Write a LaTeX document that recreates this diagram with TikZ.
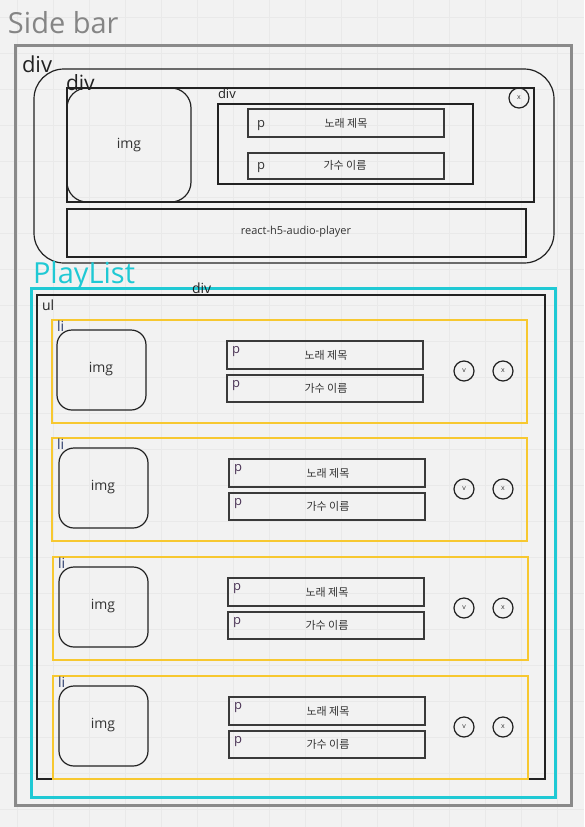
\documentclass[tikz,border=0pt]{standalone}
\usepackage{fontspec}
\setmainfont{Open Sans}
\newfontfamily\kr{Noto Sans CJK KR}
\definecolor{bgc}{HTML}{F2F2F2}
\definecolor{gridc}{HTML}{E9E9E9}
\definecolor{sidegray}{HTML}{8A8A8A}
\definecolor{sidetext}{HTML}{858585}
\definecolor{cyanc}{HTML}{1FC9D4}
\definecolor{yellowc}{HTML}{F7C830}
\definecolor{linec}{HTML}{222222}
\definecolor{pboxc}{HTML}{3A3A3A}
\definecolor{txtc}{HTML}{333333}
\definecolor{navyc}{HTML}{2A3A6A}
\definecolor{pc}{HTML}{4A3355}
\newcommand\rbox[6]{\node[#6, minimum width={(#4)-(#2)}, minimum height={(#5)-(#3)}, anchor=north west] (#1) at (#2,#3) {};}
\tikzset{
  frame/.style={draw=linec, line width=1.2pt, inner sep=0pt, outer sep=0pt, rectangle},
  sidebox/.style={draw=sidegray, line width=3pt, inner sep=0pt, outer sep=0pt, rectangle},
  cyanbox/.style={draw=cyanc, line width=3pt, inner sep=0pt, outer sep=0pt, rectangle},
  libox/.style={draw=yellowc, line width=1.5pt, inner sep=0pt, outer sep=0pt, rectangle},
  pbox/.style={draw=pboxc, line width=1.7pt, inner sep=0pt, outer sep=0pt, rectangle},
  imgbox/.style={draw=linec, line width=1.2pt, inner sep=0pt, outer sep=0pt, rectangle, rounded corners=15pt},
  circ/.style={draw=linec, line width=1.2pt, circle, minimum size=20pt, inner sep=0pt, font=\fontsize{7}{7}\selectfont, text=txtc},
  lbl/.style={inner sep=0pt, outer sep=0pt, anchor=base west},
  krtxt/.style={inner sep=0pt, font=\kr\fontsize{11}{12}\selectfont, text=txtc},
  gridline/.style={draw=gridc, line width=0.7pt}
}
\begin{document}
\begin{tikzpicture}[x=1pt,y=-1pt]
\fill[bgc] (0,0) rectangle (584,827);
\useasboundingbox (0,0) rectangle (584,827);
\foreach \g in {17,53,...,584} \draw[gridline] (\g,0) -- (\g,827);
\foreach \g in {17,53,...,827} \draw[gridline] (0,\g) -- (584,\g);

% Side bar
\node[lbl, text=sidetext, font=\fontsize{29}{30}\selectfont] (sidetitle) at (8,33) {Side bar};
\rbox{sidebar}{15}{45}{571}{805}{sidebox}
\node[lbl, text=linec, font=\fontsize{22}{24}\selectfont] (divA) at (22,72) {div};

% player div
\rbox{player}{34}{69}{554}{263}{frame, rounded corners=30pt}
\node[lbl, text=linec, font=\fontsize{21}{24}\selectfont] (divB) at (66,90) {div};
\rbox{info}{67}{88}{534}{202}{frame}
\rbox{topimg}{67}{88}{191}{202}{imgbox, rounded corners=20pt}
\node[inner sep=0pt, font=\fontsize{14}{16}\selectfont, text=txtc] (topimgtxt) at (129,145) {img};
\node[lbl, text=linec, font=\fontsize{13}{15}\selectfont] (divC) at (218,98) {div};
\rbox{textdiv}{218}{104}{473}{184}{frame}
\rbox{tp1}{248}{109}{444}{137}{pbox}
\rbox{tp2}{248}{153}{444}{179}{pbox}
\node[lbl, font=\fontsize{13}{15}\selectfont, text=txtc] (tp1p) at (257,127) {p};
\node[lbl, font=\fontsize{13}{15}\selectfont, text=txtc] (tp2p) at (257,169) {p};
\node[krtxt] (tp1t) at (346,123) {노래 제목};
\node[krtxt] (tp2t) at (345,165) {가수 이름};
\node[circ] (topx) at (519,98) {x};
\rbox{audio}{67}{209}{526}{257}{frame}
\node[inner sep=0pt, font=\fontsize{11}{13}\selectfont, text=txtc] (audiotxt) at (296,232) {react-h5-audio-player};

% PlayList
\node[lbl, text=cyanc, font=\fontsize{29}{30}\selectfont] (pltitle) at (33,283) {PlayList};
\rbox{playlist}{31}{288}{555}{797}{cyanbox}
\node[lbl, text=linec, font=\fontsize{14}{16}\selectfont] (divD) at (192,293) {div};
\rbox{ul}{37}{295}{545}{779}{frame}
\node[lbl, text=linec, font=\fontsize{14}{16}\selectfont] (ultxt) at (42,310) {ul};

\foreach \t/\lx/\ix/\px/\n in {320/52/57/227/1, 438/52/59/229/2, 557/53/59/228/3, 676/53/59/229/4}{
  \rbox{li\n}{\lx}{\t}{\lx+475}{\t+103}{libox}
  \node[lbl, text=navyc, font=\fontsize{14}{16}\selectfont] (litxt\n) at (\lx+5,\t+11) {li};
  \rbox{img\n}{\ix}{\t+10}{\ix+89}{\t+90}{imgbox}
  \node[inner sep=0pt, font=\fontsize{14}{16}\selectfont, text=txtc] (imgtxt\n) at (\ix+44,\t+49) {img};
  \rbox{pa\n}{\px}{\t+21}{\px+196}{\t+49}{pbox}
  \rbox{pb\n}{\px}{\t+55}{\px+196}{\t+82}{pbox}
  \node[lbl, text=pc, font=\fontsize{13}{15}\selectfont] (pap\n) at (\px+5,\t+33) {p};
  \node[lbl, text=pc, font=\fontsize{13}{15}\selectfont] (pbp\n) at (\px+5,\t+67) {p};
  \node[krtxt] (pat\n) at (\px+99,\t+35) {노래 제목};
  \node[krtxt] (pbt\n) at (\px+99,\t+68) {가수 이름};
  \node[circ] (v\n) at (464,\t+51) {v};
  \node[circ] (x\n) at (503,\t+51) {x};
}
\end{tikzpicture}
\end{document}
